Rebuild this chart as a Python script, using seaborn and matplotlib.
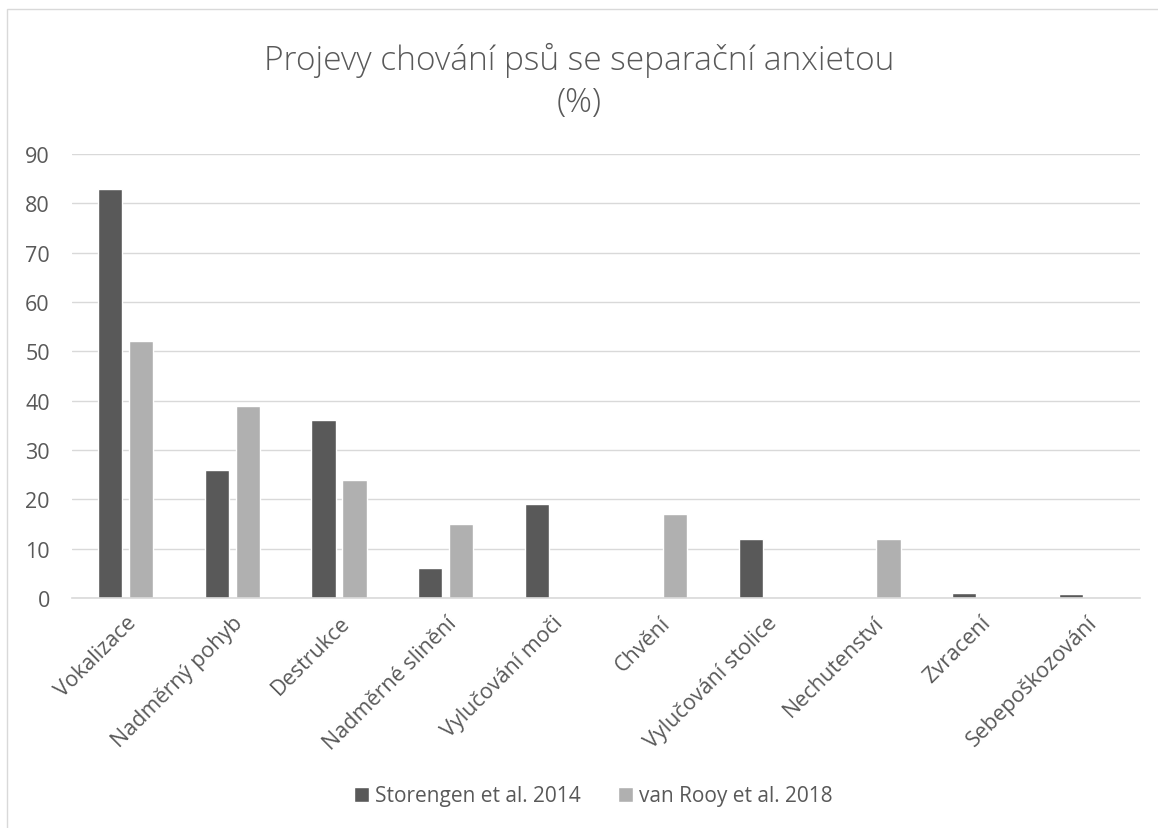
import matplotlib
matplotlib.use("Agg")
import matplotlib.pyplot as plt
import seaborn as sns
import pandas as pd
from matplotlib.patches import Rectangle

categories = ["Vokalizace", "Nadměrný pohyb", "Destrukce", "Nadměrné slinění",
              "Vylučování moči", "Chvění", "Vylučování stolice", "Nechutenství",
              "Zvracení", "Sebepoškozování"]
series_names = ["Storengen et al. 2014", "van Rooy et al. 2018"]
storengen = [83, 26, 36, 6, 19, 0, 12, 0, 1, 0.8]
vanrooy = [52, 39, 24, 15, 0, 17, 0, 12, 0, 0]
yticks = [0, 10, 20, 30, 40, 50, 60, 70, 80, 90]

df = pd.DataFrame({
    "cat": categories * 2,
    "val": storengen + vanrooy,
    "series": [series_names[0]] * len(categories) + [series_names[1]] * len(categories),
})

sns.set_theme(style="white")
plt.rcParams['font.family'] = ['Open Sans', 'DejaVu Sans']
txt = "#595959"

fig = plt.figure(figsize=(11.58, 8.29), dpi=100)
ax = fig.add_axes([72/1158, 1-599/829, (1140-72)/1158, (599-155)/829])

sns.barplot(data=df, x="cat", y="val", hue="series", order=categories,
            hue_order=series_names, palette=["#595959", "#b0b0b0"],
            width=0.58, gap=0.224, saturation=1, errorbar=None, ax=ax, legend=True)

ax.set_ylim(0, 90)
ax.set_yticks(yticks)
ax.set_yticklabels([str(v) for v in yticks], color=txt, fontsize=15.5)
ax.yaxis.grid(True, color="#d9d9d9", linewidth=1)
ax.set_axisbelow(True)
for s in ["top", "right", "left"]:
    ax.spines[s].set_visible(False)
ax.spines["bottom"].set_color("#d9d9d9")
ax.spines["bottom"].set_linewidth(1.2)
ax.tick_params(axis="both", length=0)
ax.tick_params(axis="x", pad=10)
ax.tick_params(axis="y", pad=16)
ax.set_xlabel("")
ax.set_ylabel("")
ax.set_xlim(-0.5, len(categories) - 0.5)
ax.set_xticks(range(len(categories)))
ax.set_xticklabels(categories, rotation=45, ha="right", rotation_mode="anchor",
                   color=txt, fontsize=15.5)

fig.text(0.5, 1-81.5/829, "Projevy chování psů se separační anxietou\n(%)",
         ha="center", va="center", fontsize=24, color=txt, fontweight="light",
         linespacing=1.3)

h, l = ax.get_legend_handles_labels()
ax.legend_.remove()
fig.legend(h, l, loc="center", bbox_to_anchor=(593/1158, 1-797/829), ncol=2, frameon=False,
           fontsize=15, labelcolor=txt, handlelength=0.75, handleheight=0.75,
           handletextpad=0.25, columnspacing=1.8)

fig.add_artist(Rectangle((7/1158, -0.01), 1.0, 1-10/829 + 0.01, transform=fig.transFigure,
                         fill=False, edgecolor="#d9d9d9", linewidth=1))

fig.savefig("out.png", dpi=100, facecolor="white")
